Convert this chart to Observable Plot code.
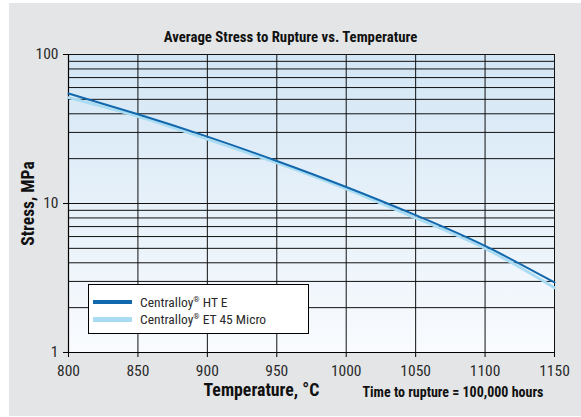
<!DOCTYPE html>
<html>
<head>
<meta charset="utf-8">
<script src="https://cdn.jsdelivr.net/npm/d3@7"></script>
<script src="https://cdn.jsdelivr.net/npm/@observablehq/plot@0.6"></script>
<style>
  html, body { margin: 0; padding: 0; background: #fff; }
  #wrap { position: relative; width: 581px; height: 417px; overflow: hidden; background: #fff; }
  #panel { position: absolute; left: 9px; top: 3px; right: 0; bottom: 1px; background: #e4e5e7; }
  #chart { position: absolute; left: 0; top: 0; }
  #legend { position: absolute; left: 88px; top: 284px; width: 219px; height: 48px;
    background: #fff; border: 1px solid #000; font-family: "Liberation Sans Narrow", "Arial Narrow", "Roboto Condensed", sans-serif;
    font-size: 13.5px; color: #2a2a2a; }
  .row { position: absolute; left: 4px; display: flex; align-items: center; height: 16px; }
  .sw { width: 39px; height: 4px; margin-right: 8px; }
  sup { font-size: 8px; vertical-align: 5px; line-height: 0; }
</style>
</head>
<body>
<div id="wrap">
  <div id="panel"></div>
  <div id="chart"></div>
  <div id="legend"></div>
</div>
<script>
const temperatures = [800, 850, 900, 950, 1000, 1050, 1100, 1150];
const htE = [54.7, 39.7, 28.1, 19.3, 12.9, 8.35, 5.19, 2.95];
const et45Micro = [51.4, 38.4, 27.0, 18.7, 12.5, 8.0, 4.99, 2.72];
const seriesNames = ["Centralloy® HT E", "Centralloy® ET 45 Micro"];
const seriesColors = ["#1268ad", "#a9dcf3"];
const xTicks = [800, 850, 900, 950, 1000, 1050, 1100, 1150];
const yTicks = [1, 10, 100];
const yGrid = [1,2,3,4,5,6,7,8,9,10,20,30,40,50,60,70,80,90,100];
const titleText = "Average Stress to Rupture vs. Temperature";
const xLabel = "Temperature, °C";
const yLabel = "Stress, MPa";
const noteText = "Time to rupture = 100,000 hours";

const rows = [];
temperatures.forEach((t, i) => {
  rows.push({series: seriesNames[1], t, v: et45Micro[i]});
});
temperatures.forEach((t, i) => {
  rows.push({series: seriesNames[0], t, v: htE[i]});
});

const narrow = '"Liberation Sans Narrow", "Arial Narrow", "Roboto Condensed", sans-serif';

const chart = Plot.plot({
  width: 581,
  height: 417,
  marginLeft: 68,
  marginRight: 27,
  marginTop: 54,
  marginBottom: 65,
  style: {background: "transparent", fontFamily: narrow, color: "#2a2a2a"},
  x: {domain: [800, 1150]},
  y: {type: "log", domain: [1, 100]},
  marks: [
    Plot.frame({fill: "url(#plotbg)", stroke: null}),
    Plot.ruleY(yGrid, {stroke: "#111", strokeWidth: 1}),
    Plot.ruleX(xTicks, {stroke: "#111", strokeWidth: 1}),
    Plot.axisX({ticks: xTicks, tickSize: 5, tickPadding: 7, tickFormat: d => String(d), fontSize: 15.5, label: null, stroke: "#000"}),
    Plot.axisY({ticks: yTicks, tickSize: 5, tickPadding: 5, tickFormat: d => String(d), fontSize: 15.5, label: null, stroke: "#000"}),
    Plot.ruleX([800], {stroke: "#000", strokeWidth: 1.2}),
    Plot.ruleY([1], {stroke: "#000", strokeWidth: 1.2}),
    Plot.line(rows, {x: "t", y: "v", z: "series", stroke: d => d.series === seriesNames[0] ? seriesColors[0] : seriesColors[1],
      strokeWidth: d => d.series === seriesNames[0] ? 2 : 2.8, curve: "natural"}),
    Plot.text([titleText], {frameAnchor: "top", dx: -21, dy: -23, fontSize: 14.8, fontWeight: "bold", fill: "#111", fontFamily: narrow}),
    Plot.text([xLabel], {frameAnchor: "bottom-left", dx: 135, dy: 43, textAnchor: "start", fontSize: 17.8, fontWeight: "bold", fill: "#111", fontFamily: narrow}),
    Plot.text([noteText], {frameAnchor: "bottom-left", dx: 294, dy: 44, textAnchor: "start", fontSize: 14, fontWeight: "bold", fill: "#111", fontFamily: narrow}),
    Plot.text([yLabel], {frameAnchor: "left", dx: -40, rotate: -90, textAnchor: "middle", fontSize: 17.5, fontWeight: "bold", fill: "#111", fontFamily: narrow})
  ]
});

d3.select(chart).insert("defs", ":first-child").html(
  '<linearGradient id="plotbg" x1="0" y1="0" x2="0" y2="1">' +
  '<stop offset="0" stop-color="#d3e6f5"/>' +
  '<stop offset="1" stop-color="#f9fbfe"/>' +
  '</linearGradient>');

document.getElementById("chart").appendChild(chart);

const legend = document.getElementById("legend");
seriesNames.forEach((name, i) => {
  const row = document.createElement("div");
  row.className = "row";
  row.style.top = (9 + i * 17) + "px";
  const sw = document.createElement("div");
  sw.className = "sw";
  sw.style.background = seriesColors[i];
  sw.style.height = i === 0 ? "4px" : "5px";
  const label = document.createElement("span");
  const parts = name.split("®");
  label.innerHTML = parts[0] + "<sup>®</sup>" + parts[1];
  row.appendChild(sw);
  row.appendChild(label);
  legend.appendChild(row);
});
</script>
</body>
</html>
